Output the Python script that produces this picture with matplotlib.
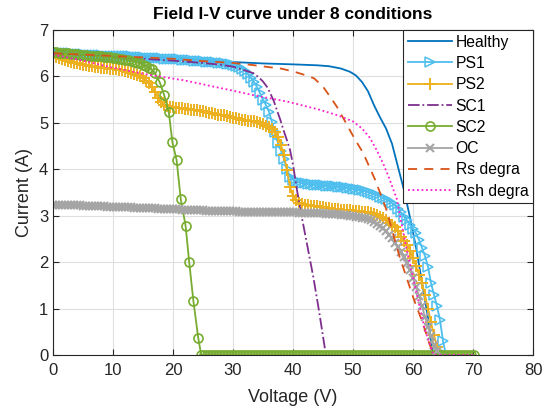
import matplotlib.pyplot as plt
import numpy as np

plt.rcParams['font.family'] = ['Liberation Sans', 'DejaVu Sans']

# Healthy string
healthy_v = [0, 5, 10, 15, 20, 25, 30, 35, 40, 44, 46, 48, 49.5, 50.5, 51.5, 52.5, 53.5, 54.5,
             55.5, 56.5, 57.5, 58.5, 59.5, 60.5, 61.5, 62.5, 63.1, 63.5, 70]
healthy_i = [6.52, 6.48, 6.45, 6.42, 6.39, 6.35, 6.31, 6.28, 6.26, 6.24, 6.22, 6.17, 6.10, 6.02,
             5.88, 5.68, 5.38, 5.12, 4.88, 4.55, 4.05, 3.55, 2.96, 2.32, 1.57, 0.80, 0.18, 0, 0]

# partial shading 1, sampled every 0.5 V
ps1_v = np.arange(0, 65.6, 0.5)
ps1_i = [6.52, 6.52, 6.51, 6.51, 6.50, 6.50, 6.50, 6.49, 6.49, 6.48,
         6.48, 6.47, 6.47, 6.47, 6.47, 6.46, 6.46, 6.45, 6.45, 6.45,
         6.45, 6.44, 6.44, 6.43, 6.43, 6.43, 6.43, 6.42, 6.42, 6.41,
         6.41, 6.40, 6.40, 6.40, 6.40, 6.39, 6.39, 6.38, 6.38, 6.38,
         6.38, 6.37, 6.37, 6.36, 6.36, 6.35, 6.35, 6.34, 6.34, 6.33,
         6.33, 6.32, 6.32, 6.31, 6.31, 6.30, 6.29, 6.28, 6.27, 6.26,
         6.24, 6.23, 6.21, 6.17, 6.12, 6.05, 5.97, 5.88, 5.77, 5.64,
         5.50, 5.38, 5.24, 5.01, 4.80, 4.56, 4.40, 4.22, 4.00, 3.84,
         3.77, 3.74, 3.72, 3.71, 3.70, 3.69, 3.68, 3.67, 3.67, 3.66,
         3.66, 3.65, 3.64, 3.63, 3.63, 3.62, 3.62, 3.61, 3.60, 3.59,
         3.58, 3.57, 3.56, 3.55, 3.53, 3.51, 3.49, 3.47, 3.44, 3.41,
         3.38, 3.35, 3.31, 3.27, 3.22, 3.15, 3.07, 2.98, 2.90, 2.81,
         2.72, 2.62, 2.48, 2.31, 2.13, 1.90, 1.55, 1.30, 1.05, 0.75,
         0.30, 0]

# partial shading 2, sampled every 0.5 V
ps2_v = np.arange(0, 64.6, 0.5)
ps2_i = [6.43, 6.41, 6.39, 6.37, 6.36, 6.34, 6.32, 6.30, 6.28, 6.27,
         6.25, 6.24, 6.23, 6.22, 6.21, 6.20, 6.19, 6.18, 6.18, 6.17,
         6.16, 6.15, 6.14, 6.13, 6.11, 6.10, 6.08, 6.06, 6.03, 6.00,
         5.96, 5.91, 5.85, 5.77, 5.66, 5.54, 5.44, 5.39, 5.36, 5.35,
         5.34, 5.33, 5.32, 5.31, 5.30, 5.29, 5.28, 5.27, 5.27, 5.26,
         5.25, 5.24, 5.22, 5.21, 5.20, 5.18, 5.17, 5.16, 5.14, 5.13,
         5.11, 5.10, 5.08, 5.07, 5.06, 5.05, 5.04, 5.03, 5.01, 4.99,
         4.97, 4.94, 4.91, 4.87, 4.80, 4.70, 4.52, 4.30, 3.98, 3.62,
         3.42, 3.33, 3.28, 3.26, 3.24, 3.22, 3.21, 3.21, 3.20, 3.19,
         3.18, 3.17, 3.16, 3.15, 3.14, 3.14, 3.13, 3.13, 3.12, 3.12,
         3.11, 3.11, 3.10, 3.09, 3.08, 3.07, 3.05, 3.03, 3.01, 2.98,
         2.95, 2.90, 2.85, 2.80, 2.75, 2.66, 2.55, 2.46, 2.37, 2.25,
         2.08, 1.92, 1.72, 1.55, 1.30, 1.00, 0.70, 0.43, 0.18, 0]

# short circuit 1
sc1_v = [0, 5, 10, 15, 20, 25, 28, 30, 32, 33.4, 34.3, 35, 35.7, 36.2, 36.8, 37.3, 37.9, 38.4,
         39, 39.5, 40, 40.6, 41.2, 42.3, 43.4, 44.4, 45.3, 45.5]
sc1_i = [6.50, 6.46, 6.42, 6.38, 6.34, 6.29, 6.25, 6.21, 6.13, 6.07, 5.98, 5.89, 5.77, 5.64,
         5.47, 5.28, 5.06, 4.85, 4.62, 4.42, 4.10, 3.60, 3.15, 2.41, 1.67, 0.90, 0.15, 0]

# short circuit 2
sc2_v = [0, 0.5, 1, 1.5, 2, 2.5, 3, 3.5, 4, 4.5, 5, 5.5, 6, 6.5, 7, 7.5, 8, 8.5, 9, 9.5, 10,
         10.5, 11, 11.5, 12, 12.5, 13, 13.5, 14, 14.5, 15, 15.5, 16, 16.5, 17, 17.8, 18.5, 19.3,
         19.9, 20.6, 21.3, 22.1, 22.7, 23.4, 24.2]
sc2_i = [6.52, 6.52, 6.51, 6.51, 6.50, 6.50, 6.49, 6.49, 6.48, 6.47, 6.46, 6.46, 6.45, 6.45,
         6.44, 6.43, 6.43, 6.42, 6.41, 6.41, 6.40, 6.39, 6.38, 6.37, 6.36, 6.35, 6.33, 6.32, 6.30,
         6.28, 6.25, 6.22, 6.19, 6.15, 6.07, 5.87, 5.61, 5.23, 4.58, 4.20, 3.35, 2.78, 2.00, 1.16,
         0.37]
# beyond 24.7 V the string delivers no current
sc2_zero_v = np.arange(24.7, 70.3, 0.5)
sc2_v = sc2_v + list(sc2_zero_v)
sc2_i = sc2_i + [0.0] * len(sc2_zero_v)

# open circuit, sampled every 0.5 V
oc_v = np.arange(0, 64.1, 0.5)
oc_i = [3.24, 3.24, 3.24, 3.23, 3.23, 3.23, 3.22, 3.22, 3.22, 3.22,
        3.21, 3.21, 3.21, 3.21, 3.20, 3.20, 3.20, 3.20, 3.19, 3.19,
        3.19, 3.19, 3.19, 3.18, 3.18, 3.18, 3.18, 3.17, 3.17, 3.17,
        3.17, 3.16, 3.16, 3.16, 3.16, 3.15, 3.15, 3.15, 3.15, 3.14,
        3.14, 3.14, 3.14, 3.13, 3.13, 3.13, 3.13, 3.12, 3.12, 3.12,
        3.12, 3.11, 3.11, 3.11, 3.11, 3.11, 3.10, 3.10, 3.10, 3.10,
        3.10, 3.10, 3.09, 3.09, 3.09, 3.09, 3.09, 3.09, 3.08, 3.08,
        3.08, 3.08, 3.08, 3.08, 3.08, 3.07, 3.07, 3.07, 3.07, 3.07,
        3.07, 3.07, 3.06, 3.06, 3.06, 3.06, 3.06, 3.05, 3.05, 3.05,
        3.05, 3.04, 3.04, 3.04, 3.03, 3.03, 3.02, 3.02, 3.01, 3.00,
        2.99, 2.98, 2.97, 2.96, 2.94, 2.92, 2.90, 2.87, 2.83, 2.78,
        2.73, 2.66, 2.59, 2.51, 2.42, 2.33, 2.22, 2.11, 1.98, 1.83,
        1.65, 1.47, 1.27, 1.05, 0.82, 0.61, 0.40, 0.22, 0.09]

# series resistance degradation
rs_v = [0, 5, 10, 15, 20, 25, 30, 33, 36, 38, 40.5, 42, 43.5, 45, 46.2, 47.3, 48.9, 50.3, 51.7,
        53.7, 55.6, 56.7, 57.8, 58.9, 60, 60.6, 61.3, 62, 62.7, 63.3, 63.5]
rs_i = [6.50, 6.47, 6.44, 6.41, 6.38, 6.33, 6.29, 6.25, 6.20, 6.17, 6.09, 6.03, 5.96, 5.78,
        5.56, 5.35, 4.98, 4.65, 4.35, 3.77, 3.12, 2.60, 2.10, 1.68, 1.25, 1.04, 0.80, 0.54, 0.25,
        0.06, 0]

# shunt resistance degradation
rsh_v = [0, 5, 9.5, 16.2, 21.7, 29, 34, 39, 44.5, 47.5, 50, 51.5, 52.8, 54, 55, 56, 57.3, 58.9,
         60.6, 62, 63.3, 63.6, 70]
rsh_i = [6.47, 6.34, 6.20, 6.03, 5.92, 5.72, 5.58, 5.46, 5.28, 5.16, 5.03, 4.88, 4.68, 4.40,
         4.13, 3.82, 3.36, 2.30, 1.33, 0.54, 0.04, 0, 0]

fig = plt.figure(figsize=(5.42, 4.15), dpi=100)
ax = fig.add_axes([0.0978, 0.1446, 0.8856, 0.7831])

lw = 1.3
ax.plot(healthy_v, healthy_i, color='#0072BD', lw=lw, label='Healthy')
ax.plot(ps1_v, ps1_i, color='#4DBEEE', lw=lw, marker='>', ms=7, mew=1.1, mfc='none', label='PS1')
ax.plot(ps2_v, ps2_i, color='#EDB120', lw=lw, marker='+', ms=8, mew=1.4, label='PS2')
ax.plot(sc1_v, sc1_i, color='#7E2F8E', lw=lw, ls='-.', label='SC1')
ax.plot(sc2_v, sc2_i, color='#77AC30', lw=lw, marker='o', ms=6.5, mew=1.2, mfc='none', label='SC2')
ax.plot(oc_v, oc_i, color='#A5A5A5', lw=lw, marker='x', ms=5.5, mew=1.5, label='OC')
ax.plot(rs_v, rs_i, color='#D95319', lw=lw, ls=(0, (5, 4)), label='Rs degra')
ax.plot(rsh_v, rsh_i, color='#FF1DCB', lw=lw, ls=(0, (1, 1.5)), label='Rsh degra')

ax.set_xlim(0, 80)
ax.set_ylim(0, 7)
ax.set_xticks(range(0, 81, 10))
ax.set_yticks(range(0, 8))
ax.tick_params(direction='in', top=True, right=True, labelsize=12, colors='#262626', length=4)
ax.tick_params(axis='x', pad=6)
for s in ax.spines.values():
    s.set_color('#262626')
    s.set_linewidth(0.8)
ax.grid(color='#DFDFDF', lw=0.8)
ax.set_axisbelow(True)

ax.set_xlabel('Voltage (V)', fontsize=13, color='#262626', labelpad=8)
ax.set_ylabel('Current (A)', fontsize=13, color='#262626')
ax.set_title('Field I-V curve under 8 conditions', fontsize=12.5, fontweight='bold', pad=8)

leg = ax.legend(loc='upper right', fontsize=11.3, handlelength=2.8, borderaxespad=0,
                fancybox=False, edgecolor='#262626', framealpha=1, labelspacing=0.4,
                borderpad=0.3, handletextpad=0.25)
leg.get_frame().set_linewidth(0.8)

fig.savefig('out.png', dpi=100)
